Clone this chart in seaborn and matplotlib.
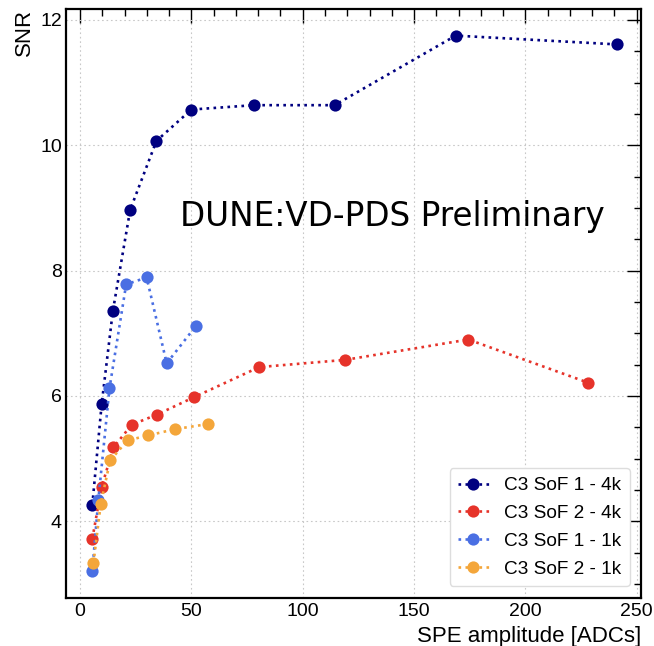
import matplotlib
matplotlib.use("Agg")
import matplotlib.pyplot as plt
import seaborn as sns
import pandas as pd
from matplotlib.ticker import MultipleLocator

# ---- data ----
sof1_4k_x = [5.5, 9.7, 14.7, 22.5, 34.3, 50.0, 78.1, 114.3, 168.7, 241.0]
sof1_4k_y = [4.26, 5.87, 7.35, 8.97, 10.07, 10.57, 10.64, 10.64, 11.75, 11.61]

sof2_4k_x = [5.5, 9.7, 15.0, 23.2, 34.4, 51.2, 80.5, 119.0, 174.4, 228.3]
sof2_4k_y = [3.72, 4.55, 5.18, 5.54, 5.70, 5.98, 6.46, 6.575, 6.90, 6.21]

sof1_1k_x = [5.5, 8.2, 13.2, 20.7, 29.9, 38.9, 52.1]
sof1_1k_y = [3.21, 4.34, 6.12, 7.78, 7.89, 6.52, 7.12]

sof2_1k_x = [6.0, 9.3, 13.5, 21.3, 30.7, 42.7, 57.3]
sof2_1k_y = [3.33, 4.28, 4.97, 5.29, 5.37, 5.47, 5.55]

labels = ["C3 SoF 1 - 4k", "C3 SoF 2 - 4k", "C3 SoF 1 - 1k", "C3 SoF 2 - 1k"]
colors = ["#000080", "#e6332a", "#4a6fe3", "#f4a63a"]

series = [(sof1_4k_x, sof1_4k_y), (sof2_4k_x, sof2_4k_y),
          (sof1_1k_x, sof1_1k_y), (sof2_1k_x, sof2_1k_y)]

sns.set_style("white")
plt.rcParams['font.family'] = ['Liberation Sans', 'DejaVu Sans']
plt.rcParams['text.color'] = 'black'
plt.rcParams['axes.labelcolor'] = 'black'
plt.rcParams['xtick.color'] = 'black'
plt.rcParams['ytick.color'] = 'black'

fig = plt.figure(figsize=(6.54, 6.46), dpi=100)
ax = fig.add_axes([0.101, 0.0748, 0.879, 0.9108])

for (xs, ys), lab, col in zip(series, labels, colors):
    df = pd.DataFrame({"x": xs, "y": ys})
    sns.lineplot(data=df, x="x", y="y", ax=ax, color=col, marker="o",
                 linestyle=":", linewidth=1.9, markersize=8.8,
                 markeredgewidth=0, label=lab, sort=False)

ax.set_xlim(-6.3, 251.9)
ax.set_ylim(2.78, 12.17)
ax.xaxis.set_major_locator(MultipleLocator(50))
ax.xaxis.set_minor_locator(MultipleLocator(10))
ax.yaxis.set_major_locator(MultipleLocator(2))
ax.yaxis.set_minor_locator(MultipleLocator(0.5))
ax.tick_params(which="both", direction="in", top=True, right=True,
               labelsize=14, width=1.0, colors="black")
ax.tick_params(which="major", length=10, pad=4)
ax.tick_params(which="minor", length=5)
ax.tick_params(axis="y", which="major", pad=3)
for s in ax.spines.values():
    s.set_linewidth(1.6)
    s.set_color("black")

ax.grid(True, which="major", linestyle=(0, (1.5, 2.5)), color="#c8c8c8", linewidth=0.8)

ax.set_xlabel("SPE amplitude [ADCs]", fontsize=16, loc="right")
ax.set_ylabel("SNR", fontsize=16, loc="top")

ax.text(0.198, 0.647, "DUNE:VD-PDS Preliminary", transform=ax.transAxes,
        fontsize=23.5, family="DejaVu Sans", va="center", ha="left", color="black")

leg = ax.legend(loc="lower right", fontsize=13.7, frameon=True, fancybox=True,
                edgecolor="#dddddd", framealpha=1.0, labelspacing=0.55,
                handlelength=1.6, borderaxespad=0.6, borderpad=0.45,
                handletextpad=0.8)
for t in leg.get_texts():
    t.set_color("black")

fig.savefig("out.png", dpi=100)
